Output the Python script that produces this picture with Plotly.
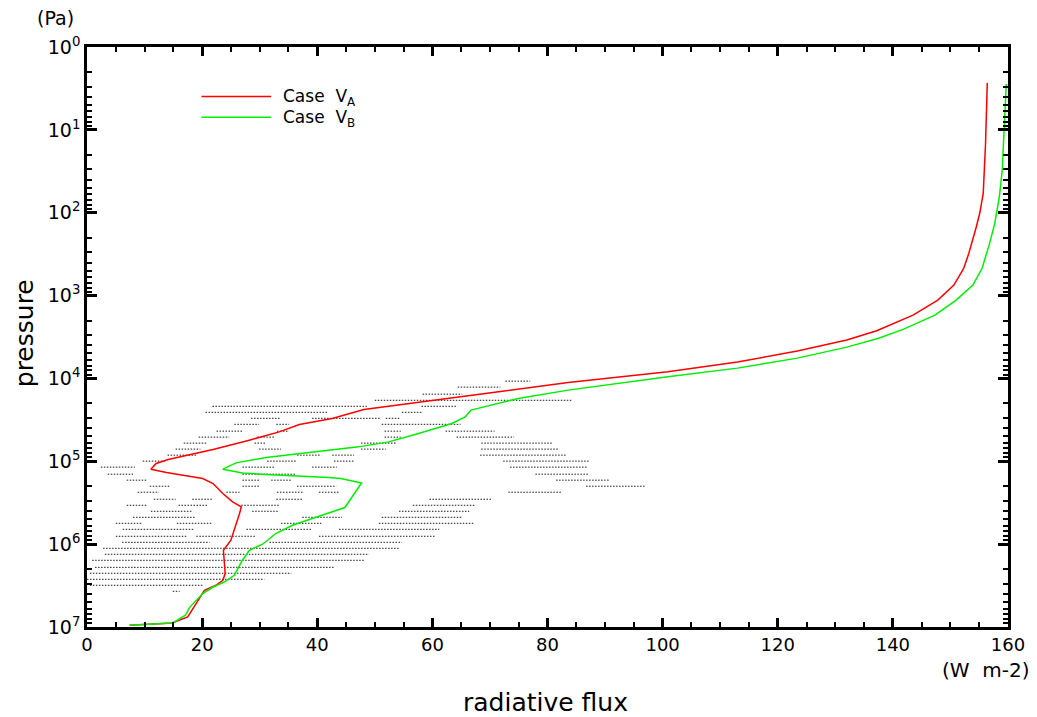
import plotly.graph_objects as go

# ---- profiles: net radiative flux (W m-2) vs pressure (Pa) ----
flux_a = [156.4, 156.1, 155.7, 155.1, 154.5, 153.9, 153.2, 152.3, 150.6, 147.8,
          143.5, 137.2, 132.0, 123.4, 113.0, 100.9, 83.6, 69.2, 57.6, 48.1,
          42.6, 36.9, 33.4, 28.2, 21.9, 16.7, 14.1, 12.0, 11.1, 13.8,
          20.1, 21.9, 23.6, 25.3, 26.8, 26.5, 25.9, 25.3, 25.0, 23.7,
          23.9, 24.0, 23.6, 22.4, 20.4, 19.3, 18.1, 17.5, 14.8, 7.4]
pres_a = [2.71, 14.5, 58.3, 100.9, 147.6, 213.6, 309, 469, 746, 1133,
          1719, 2661, 3445, 4677, 6353, 8321, 11170, 15170, 19170, 23680,
          30400, 35970, 44170, 55620, 71980, 86700, 95100, 106400, 124500, 136500,
          161400, 185400, 244800, 309300, 355500, 426700, 563600, 744700, 897600, 1.185e6,
          1.715e6, 2.265e6, 2.729e6, 3.135e6, 3.604e6, 4.76e6, 6.29e6, 7.57e6, 8.95e6, 9.54e6]

flux_b = [159.7, 159.4, 159.0, 158.5, 157.7, 156.8, 155.5, 153.9, 151.0, 147.3,
          141.8, 137.4, 132.0, 123.4, 113.0, 100.9, 83.6, 74.9, 69.2, 66.7,
          65.7, 63.4, 57.6, 52.4, 47.2, 42.3, 31.1, 25.9, 23.6, 27.0,
          31.1, 42.0, 44.1, 47.7, 45.8, 44.8, 40.3, 35.7, 32.8, 30.5,
          28.2, 27.0, 26.2, 25.6, 23.9, 21.9, 20.1, 19.0, 17.8, 17.1,
          14.9, 7.4]
pres_b = [2.79, 9.15, 30.5, 64.1, 134.3, 234.4, 469, 746, 1133, 1719,
          2559, 3289, 4188, 5688, 7512, 9572, 13840, 17450, 22030, 24140,
          29110, 34940, 46140, 58320, 67000, 73450, 89950, 104500, 124500, 138000,
          144300, 157000, 161400, 182400, 289100, 361300, 460300, 591500, 744700, 1.002e6,
          1.185e6, 1.563e6, 1.972e6, 2.375e6, 2.860e6, 3.29e6, 3.95e6, 4.76e6, 5.83e6, 7.21e6,
          8.95e6, 9.54e6]

# ---- dotted flux ranges at individual pressure levels ----
dot_levels = [10790, 12740, 15480, 18360, 21690, 25640, 30280, 35790, 43290, 51090,
              60400, 71300, 84330, 99600, 117700, 143100, 169000, 200000, 236200, 287100,
              339500, 401100, 474100, 560200, 662100, 803800, 950600, 1.122e6, 1.325e6, 1.567e6,
              1.904e6, 2.245e6, 2.655e6, 3.135e6, 3.707e6]
dot_ranges = [
    [[72.7, 77.0]],
    [[64.4, 71.8]],
    [[58.3, 65.2]],
    [[50.0, 84.3]],
    [[21.8, 48.6], [58.1, 64.2]],
    [[20.6, 41.7], [54.7, 58.1]],
    [[28.5, 33.7], [39.1, 51.0], [51.9, 54.5]],
    [[25.6, 29.9], [32.9, 35.1], [51.2, 64.9]],
    [[22.5, 27.0], [33.0, 35.1], [51.7, 54.5], [62.3, 70.8]],
    [[19.4, 24.7], [29.6, 32.5], [51.7, 54.5], [64.2, 74.2]],
    [[16.8, 20.9], [29.1, 31.1], [47.6, 53.8], [68.5, 81.0]],
    [[15.4, 19.7], [29.9, 33.7], [47.6, 51.9], [68.5, 82.0]],
    [[14.0, 19.0], [36.5, 40.7], [42.6, 46.4], [68.3, 83.2]],
    [[9.7, 13.8], [31.3, 36.5], [42.9, 46.4], [72.3, 87.4]],
    [[2.4, 8.3], [27.0, 32.5], [39.1, 43.4], [73.5, 86.9]],
    [[3.6, 8.0], [27.0, 36.3], [77.9, 87.2]],
    [[6.9, 10.4], [27.0, 29.9], [32.0, 35.6], [81.5, 90.8]],
    [[10.9, 14.5], [27.0, 29.9], [36.5, 43.3], [86.7, 96.9]],
    [[8.8, 12.5], [24.2, 26.5], [33.0, 37.7], [40.3, 43.9], [73.2, 82.5]],
    [[11.6, 15.4], [18.3, 21.8], [32.9, 37.4], [59.5, 70.4]],
    [[6.9, 10.4], [15.9, 21.1], [26.8, 33.4], [56.6, 67.5]],
    [[11.1, 18.3], [28.7, 33.4], [54.2, 66.4]],
    [[8.0, 18.7], [37.4, 44.3], [51.2, 65.2]],
    [[5.0, 9.5], [15.6, 21.6], [33.7, 40.7], [50.7, 67.1]],
    [[6.2, 18.7], [27.7, 39.1], [43.8, 61.2]],
    [[5.0, 17.3], [19.0, 29.4], [40.3, 60.6]],
    [[6.1, 21.3], [31.7, 54.7]],
    [[2.8, 54.2]],
    [[3.1, 49.0]],
    [[0.9, 48.1]],
    [[1.4, 42.9]],
    [[0.5, 35.5]],
    [[0.0, 30.8]],
    [[0.5, 20.1]],
    [[14.9, 16.1]],
]

x_ticks = [0, 20, 40, 60, 80, 100, 120, 140, 160]
y_exps = [0, 1, 2, 3, 4, 5, 6, 7]

FONT = "DejaVu Sans"

# assemble dotted segments into one broken line
dx, dy = [], []
for p, segs in zip(dot_levels, dot_ranges):
    for a, b in segs:
        dx += [a, b, None]
        dy += [p, p, None]

fig = go.Figure()
fig.add_trace(go.Scatter(x=dx, y=dy, mode="lines", connectgaps=False,
                         line=dict(color="#1a1a1a", width=1, dash="1.5px,1.5px"),
                         hoverinfo="skip", showlegend=False))
fig.add_trace(go.Scatter(x=flux_a, y=pres_a, mode="lines", name="Case VA",
                         line=dict(color="#ff0000", width=1.5), showlegend=False))
fig.add_trace(go.Scatter(x=flux_b, y=pres_b, mode="lines", name="Case VB",
                         line=dict(color="#00ee00", width=1.5), showlegend=False))

minor_y = [m * 10 ** e for e in range(0, 7) for m in range(2, 10)]

fig.update_xaxes(range=[0, 160], tickvals=x_ticks, ticktext=[str(v) for v in x_ticks],
                 ticks="inside", ticklen=9, tickwidth=2.5, tickcolor="black",
                 showline=True, linewidth=2.5, linecolor="black", mirror="ticks",
                 showgrid=False, zeroline=False,
                 tickfont=dict(family=FONT, size=18, color="black"),
                 minor=dict(dtick=5, ticks="inside", ticklen=5, tickwidth=1.5,
                            tickcolor="black", showgrid=False))
fig.update_yaxes(type="log", range=[7, 0],
                 tickvals=[10 ** e for e in y_exps],
                 ticktext=["10<sup>%d</sup>" % e for e in y_exps],
                 ticks="inside", ticklen=10, tickwidth=2.5, tickcolor="black",
                 showline=True, linewidth=2.5, linecolor="black", mirror="ticks",
                 showgrid=False, zeroline=False,
                 tickfont=dict(family=FONT, size=19, color="black"),
                 minor=dict(tickvals=minor_y, ticks="inside", ticklen=5, tickwidth=1.5,
                            tickcolor="black", showgrid=False))


def note(text, x, y, size, **kw):
    fig.add_annotation(x=x, y=y, xref="paper", yref="paper", text=text,
                       showarrow=False, xanchor=kw.pop("xanchor", "center"),
                       yanchor="middle", font=dict(family=FONT, size=size, color="black"),
                       **kw)


# legend
for yy, col in [(0.9147, "#ff0000"), (0.8790, "#00ee00")]:
    fig.add_shape(type="line", xref="paper", yref="paper", x0=0.1243, x1=0.2,
                  y0=yy, y1=yy, line=dict(color=col, width=1.5))
note("Case  V<sub>A</sub>", 0.211, 0.9130, 17, xanchor="left")
note("Case  V<sub>B</sub>", 0.211, 0.8773, 17, xanchor="left")

# axis titles and units
note("(Pa)", -0.0346, 1.05, 19)
note("pressure", -0.067, 0.507, 25, textangle=-90)
note("radiative flux", 0.498, -0.131, 25)
note("(W  m-2)", 0.976, -0.074, 20)

fig.update_layout(width=1037, height=717,
                  margin=dict(l=87, r=25, t=47, b=90),
                  plot_bgcolor="white", paper_bgcolor="white")

fig.write_html("out.html")
